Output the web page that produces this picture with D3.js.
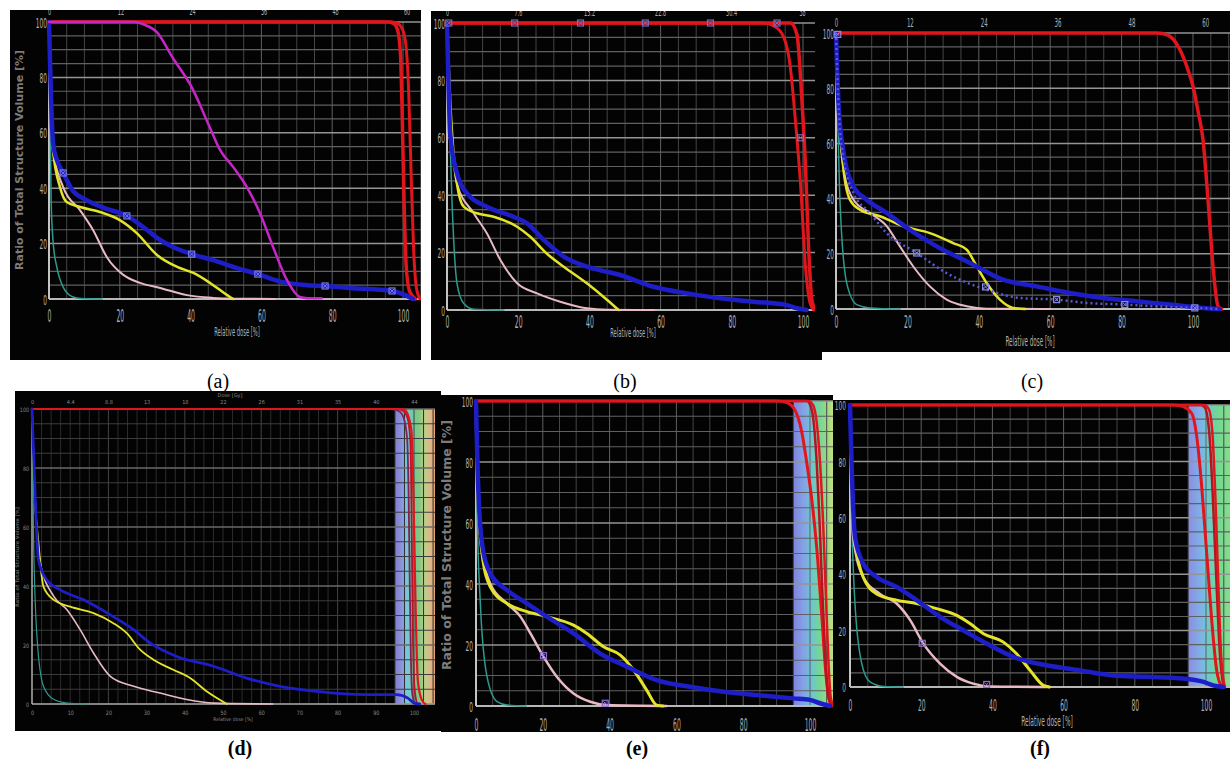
<!DOCTYPE html>
<html>
<head>
<meta charset="utf-8">
<script src="https://cdn.jsdelivr.net/npm/d3@7"></script>
<style>
  body { margin: 0; background: #fff; }
  svg { display: block; }
</style>
</head>
<body>
<svg width="1230" height="759"></svg>
<script>
"use strict";
// tick labels
const volumeTicks = [0, 20, 40, 60, 80, 100];
const doseTicks = [0, 20, 40, 60, 80, 100];
const doseTicksD = [0, 10, 20, 30, 40, 50, 60, 70, 80, 90, 100];
const gyTicksA = [0, 12, 24, 36, 48, 60], rxA = 59.4;
const gyTicksB = [0, 7.6, 15.2, 22.8, 30.4, 38], rxB = 38.1;
const gyTicksC = [0, 12, 24, 36, 48, 60], rxC = 58;
const gyTicksD = [0, 4.4, 8.8, 13.2, 17.6, 22, 26.4, 30.8, 35.2, 39.6, 44], rxD = 44;
const panelLabels = ["(a)", "(b)", "(c)", "(d)", "(e)", "(f)"];

// DVH curves, [relative dose %, volume %]
// (a)
const redA1 = [[0,100],[96,100],[97.5,99.3],[98.5,97],[99.3,88],[99.8,65],[100.3,35],[100.9,12],[101.8,3],[103.5,0]];
const redA2 = [[0,100],[97,100],[98.5,99.5],[99.8,97.5],[100.8,92],[101.6,75],[102.3,45],[103,18],[103.8,4],[104.8,0]];
const magentaA = [[0,100],[24,100],[27,99],[30.4,96.4],[35,87],[40.3,76.5],[45.4,62],[48.3,53.8],[52,47.7],[55.9,40.4],[59.6,31],[63.3,18.8],[67.2,6.9],[70.9,0.7],[73,0.3],[77,0.3]];
const blueA = [[0,100],[0.3,85],[0.7,68],[1.1,57],[2,51],[2.6,49],[4,45.5],[6.8,39],[10.6,35.7],[15.3,33],[22,30],[26.6,26],[31.4,21.3],[35,18.8],[40.3,16.2],[46.4,14],[52,11.6],[59,9],[66,6.1],[72.8,5],[78,4.7],[85,4],[96.9,2.9],[100.6,1.4],[102.8,0]];
const blueMarksA = [[4,45.5],[22,30],[40.3,16.2],[59,9],[78,4.7],[96.9,2.9]];
const yellowA = [[0,100],[0.3,80],[0.6,65],[1.1,54],[3.1,40.4],[5,35],[8.8,33.2],[14.4,31.4],[20,28.5],[24.8,23.8],[30.5,15.9],[36.2,11.6],[40.8,9.4],[45.5,5.8],[51.1,0.7],[52,0]];
const pinkA = [[0,100],[0.4,75],[1.1,54],[4,40.4],[8.8,32],[12.4,25],[16.4,15],[21,8.7],[25.7,5.8],[31.4,4],[39,1.4],[46.3,0.4],[52,0.1],[63.8,0]];
const tealA = [[0,100],[0.2,80],[0.6,35.7],[1.2,20],[2.2,11.6],[4,4.3],[6.8,0.7],[9,0.2],[15,0]];
// (b)
const redB1 = [[0,100],[89,100],[91.8,99],[94.6,95],[96.4,85],[97.8,67],[99.3,44],[100.7,15],[102,2.3],[103,0]];
const redB2 = [[0,100],[96.5,100],[98.3,96],[99.7,73],[100.7,50],[101.6,21],[102.5,3.5],[103.5,0]];
const redMarksB = [[0.5,100],[19,100],[37.5,100],[55.7,100],[74,100],[92.7,100],[99.3,60]];
const blueB = [[0,100],[0.4,80],[0.9,61.5],[2.8,47.6],[5.6,40.6],[11.2,36],[18.7,32.5],[22.5,30.2],[27.2,24.4],[32.8,18.6],[39.3,15.1],[48.7,12.2],[58,8.1],[67.4,5.8],[76.8,4.1],[86,2.9],[95.5,1.7],[98.3,0.6],[101,0]];
const yellowB = [[0,100],[0.9,73],[2.8,44],[4.7,36],[8.4,33.7],[13.1,32.5],[19.7,29],[23.4,25.5],[28,19.7],[32.8,15.1],[39.3,9.3],[45,3.5],[48.2,0]];
const pinkB = [[0,100],[0.9,70],[2.8,44],[7.5,33.7],[11.2,26.7],[15,17.4],[19.7,9.3],[25.3,5.8],[31.8,2.9],[39.3,0.6],[45,0.1],[58,0]];
const tealB = [[0,100],[0.5,73],[1.4,38],[2.8,9.3],[4.7,2.3],[7.5,0.3],[16,0]];
// (c)
const redC = [[0,100],[90,100],[93,99.2],[96.3,94],[98.5,87],[100,80.7],[101.5,71],[102.8,61.4],[104.2,39.6],[105.6,15.5],[107,1],[108,0]];
const blueC = [[0,100],[0.3,88],[0.65,75.8],[2,57.7],[4.9,44.4],[8.6,39.6],[14.2,34.8],[20.7,28.7],[28.2,22.7],[37.5,16.7],[46.8,10.6],[56.2,8.2],[65.5,5.8],[74.8,4],[84.1,2.8],[93.5,1.6],[102.8,0.4],[107.5,0]];
const blueDotC = [[0,100],[0.65,76],[2,55],[4.9,42],[9.5,34.8],[14.2,27.5],[22.6,20.3],[31,13],[42.2,7],[51.5,4],[61.8,3.4],[70.1,2.2],[80.9,1.6],[88.8,1],[100.5,0.4],[107.5,0]];
const blueDotMarksC = [[0.5,99.5],[22.6,20.3],[41.9,8],[61.8,3.4],[80.9,1.6],[100.5,0.4]];
const yellowC = [[0,100],[0.65,75.8],[2,51.7],[3.9,39.6],[6.7,36],[12.3,33.6],[18.8,30],[26.3,27.5],[32.8,23.9],[36.6,21.5],[39.4,15.5],[42.2,9.4],[45.9,3.4],[49.6,0.4],[53,0]];
const pinkC = [[0,100],[0.8,72],[2,51.7],[4.9,39.6],[9.5,34.8],[14.2,30],[17.9,22.7],[21.6,15.5],[26.3,8.2],[31,3.4],[36.6,1],[42.2,0.1],[60,0]];
const tealC = [[0,100],[0.2,88],[1.1,39.6],[3,9.4],[5.8,1.6],[9.5,0.4],[18,0]];
// (d)
const redD1 = [[0,100],[94,100],[96,99.3],[97.3,97],[98.2,90],[98.6,70],[98.9,40],[99.2,15],[99.6,3],[100.2,0]];
const redD2 = [[0,100],[95.5,100],[97,99.5],[98.3,97],[99.1,88],[99.4,60],[99.7,25],[100.1,6],[100.8,0]];
const redD3 = [[0,100],[96.5,100],[97.6,99.7],[99.3,93],[99.9,68],[100.4,34],[101,8],[102,1.5],[103,0]];
const blueD = [[0,100],[0.4,85],[0.9,68],[1.7,48.9],[3.9,42],[7.4,38.7],[13.5,35.3],[20.5,30.2],[26.6,25.2],[30.9,20.7],[37.9,16.1],[47.5,12.8],[56.2,8.8],[64.9,6],[74.5,4.3],[87.5,3.2],[95.4,3.2],[98.4,2],[100.2,0.2],[101.5,0]];
const yellowD = [[0,100],[0.4,79],[1.7,54.5],[3,39.8],[5.7,35.3],[10,33],[16.1,30.8],[21.3,27.4],[24.8,24],[28.3,18.4],[31.8,15],[37,11.6],[41.4,8.8],[45.7,4.3],[51,0]];
const pinkD = [[0,100],[0.8,70],[2.2,47.7],[5.7,36.5],[9.1,32],[12.6,25.2],[16.1,17.3],[20.5,9.4],[26.6,6],[33.5,3.7],[40.5,1.5],[47.5,0.3],[63,0]];
const tealD = [[0,100],[0.4,56.8],[1.3,22.9],[3,6],[5.7,1.5],[9.1,0.3],[14.4,0]];
// (e)
const redE1 = [[0,100],[90,100],[93,99.5],[95.5,97],[97.5,90],[99,80],[100.5,68],[102,52],[103.5,30],[104.8,10],[105.8,2],[107,0]];
const redE2 = [[0,100],[99,100],[100.3,98],[101.2,92],[102,80],[102.8,62],[103.6,40],[104.5,18],[105.3,5],[106.2,0.5],[107,0]];
const redE3 = [[0,100],[99.5,100],[101,98.5],[102,93],[103,80],[104,58],[104.8,35],[105.5,15],[106.2,3],[107,0]];
const blueE = [[0,100],[0.2,90],[0.5,77],[1.8,53.3],[4.3,43.4],[9.3,38],[15.3,33.6],[21.2,29.3],[29.2,23.8],[37.2,17.2],[45.2,12.9],[54.1,8.5],[64.1,6.3],[74.1,4.7],[84,3.6],[95,2.5],[100,2],[103,0.9],[106,0]];
const yellowE = [[0,100],[0.3,77],[1.8,50],[4.3,39],[9.3,33.6],[15.3,30.9],[21.2,29.3],[29.2,26.5],[33.2,23.8],[38.2,19.4],[43.2,16.7],[47.2,11.8],[51.1,5.2],[54.1,0.3],[56,0]];
const pinkE = [[0,100],[0.5,75],[1.3,55.5],[4.3,40],[9.3,33.6],[13.3,29.3],[16.3,23.8],[20.2,16.2],[24.2,9.6],[29.2,4.1],[34.2,1.4],[39.2,0.3],[57,0]];
const tealE = [[0,100],[0.3,66],[1.3,33.6],[3.3,9.6],[6.3,1.4],[9.3,0.3],[15,0]];
const pinkMarksE = [[20.2,16.5],[38.7,0.9]];
// (f)
const redF1 = [[0,100],[91,100],[93.6,99.4],[96,97],[97.4,88.8],[98.8,71],[100.2,47.3],[101.6,23.7],[103,5.9],[104.4,0]];
const redF2 = [[0,100],[98.5,100],[99.7,99],[101,88.8],[102,65],[103,35.5],[103.9,11.8],[104.9,0]];
const redF3 = [[0,100],[99.5,100],[100.8,98.5],[101.8,90],[102.7,65],[103.5,35],[104.3,10],[105.3,0]];
const blueF = [[0,100],[0.2,90],[0.5,77],[1.4,53.3],[3.7,43.8],[7.5,39],[13.1,35.5],[18.7,30.8],[25.3,24.9],[31.8,20.1],[38.4,15.4],[45.9,10.7],[55.2,7.7],[64.6,5.9],[74,4.1],[83.3,3.6],[93.6,3],[99.3,1.8],[102,0.6],[104.9,0]];
const yellowF = [[0,100],[0.2,88.8],[1.4,53.3],[3.7,39],[7.5,33],[13.1,30.8],[18.7,29.6],[24.3,27.8],[30,25.4],[33.7,22.5],[37.5,18.9],[43,16],[46.8,11.8],[50.6,5.9],[54.3,0.6],[56,0]];
const pinkF = [[0,100],[0.9,53.3],[3.7,39],[8.4,33],[13.1,29.6],[16.9,23.7],[20.6,15.4],[25.3,8.3],[30,3.6],[34.6,1.2],[39.3,0.2],[56,0]];
const tealF = [[0,100],[0.2,77],[1.4,29.6],[3.3,8.3],[5.6,1.8],[9.4,0.2],[15,0]];
const pinkMarksF = [[20.3,15.5],[38.4,0.9]];

// dose colour-wash bands (offset, colour) starting at 95 %
const bandStart = 95;
const bandD = [[0,"#7f80d0"],[0.15,"#8c90dc"],[0.3,"#78c8dc"],[0.5,"#72c894"],[0.62,"#8cc880"],[0.75,"#bcd08c"],[0.87,"#dcb888"],[1,"#e6a878"]];
const bandE = [[0,"#7d84dc"],[0.25,"#86a0e6"],[0.45,"#6cc4d4"],[0.65,"#72d696"],[0.85,"#9cd886"],[1,"#c4e080"]];
const bandF = [[0,"#8a8ee0"],[0.3,"#7fb0e8"],[0.45,"#6cc8d0"],[0.7,"#70d892"],[1,"#88dc8a"]];

const col = {red: "#e0161c", red2: "#b41424", maroon: "#7c2456", blue: "#1e1ec8",
  yellow: "#e4e42c", pink: "#e8bac4", teal: "#2f9a8e", magenta: "#c626c8"};

let panels = [
  {id: "a", box: [10, 10, 421, 360], x0: 49, x100: 403, y0: 299, y100: 22, right: 421,
    xTicks: doseTicks, xTickY: 322, yTickX: 47, tf: 17, tsx: 0.36, ytf: 14, ytsx: 0.42,
    xTitle: [237, 336, 13, 0.4], yTitle: [19, 160, 11], top: [gyTicksA, rxA, 15, 11, 0.45], vStep: 5,
    curves: [[redA2, col.red, 3], [redA1, col.red, 3.5], [tealA, col.teal, 1.5], [pinkA, col.pink, 2], [yellowA, col.yellow, 2.5], [blueA, col.blue, 4.5], [magentaA, col.magenta, 2.5]],
    marks: [[blueMarksA, "#7a7ae8"]]},
  {id: "b", box: [431, 11, 822, 360], x0: 447, x100: 803, y0: 310, y100: 23, right: 815,
    xTicks: doseTicks, xTickY: 328, yTickX: 445, tf: 17, tsx: 0.36, ytf: 14, ytsx: 0.42,
    xTitle: [633, 337, 13, 0.4], top: [gyTicksB, rxB, 16, 11, 0.45], vStep: 5,
    curves: [[redB1, col.red, 3], [redB2, col.red, 3.5], [tealB, col.teal, 1.5], [pinkB, col.pink, 2], [yellowB, col.yellow, 2.5], [blueB, col.blue, 4.5]],
    marks: [[redMarksB, "#7a6cc0"]]},
  {id: "c", box: [822, 11, 1230, 352], x0: 836, x100: 1193, y0: 309, y100: 33, right: 1230,
    xTicks: doseTicks, xTickY: 328, yTickX: 834, tf: 17, tsx: 0.36, ytf: 14, ytsx: 0.42,
    xTitle: [1030, 346, 14, 0.4], top: [gyTicksC, rxC, 27, 13, 0.42], vStep: 5,
    curves: [[redC, col.red, 3.5], [tealC, col.teal, 1.5], [pinkC, col.pink, 2], [yellowC, col.yellow, 2.5], [blueC, col.blue, 4.5]],
    dotted: blueDotC, marks: [[blueDotMarksC, "#8a8ae8"]]},
  {id: "d", box: [15, 391, 441, 731], x0: 32, x100: 414, y0: 704, y100: 409, right: 435,
    xTicks: doseTicksD, xTickY: 715, yTickX: 29, tf: 6, tsx: 0.8, ytf: 6, ytsx: 0.8,
    xTitle: [233, 721, 5, 0.9], yTitle: [17, 557, 5], top: [gyTicksD, rxD, 404, 5.5, 0.9], topTitle: [230, 397, 5], vStep: 2.5,
    band: bandD, dim: true,
    curves: [[redD1, col.maroon, 1.8], [redD2, col.red2, 1.8], [redD3, col.red, 2.2], [tealD, col.teal, 1.2], [pinkD, col.pink, 1.6], [yellowD, col.yellow, 1.8], [blueD, col.blue, 2.8]],
    marks: []},
  {id: "e", box: [441, 395, 833, 732], x0: 476, x100: 810, y0: 706, y100: 401, right: 833,
    xTicks: doseTicks, xTickY: 731, yTickX: 473, tf: 17, tsx: 0.36, ytf: 14, ytsx: 0.42,
    yTitle: [447, 545, 12.5], vStep: 5, band: bandE,
    curves: [[redE1, col.red, 3], [redE2, col.red2, 2.5], [redE3, col.red, 2.5], [tealE, col.teal, 1.5], [pinkE, col.pink, 2.5], [yellowE, col.yellow, 3], [blueE, col.blue, 4.5]],
    marks: [[pinkMarksE, "#8a6cc8"]]},
  {id: "f", box: [833, 400, 1230, 732], x0: 850, x100: 1206, y0: 687, y100: 405, right: 1230,
    xTicks: doseTicks, xTickY: 711, yTickX: 846, tf: 15, tsx: 0.4, ytf: 13, ytsx: 0.45,
    xTitle: [1047, 726, 14, 0.42], vStep: 5, band: bandF,
    curves: [[redF1, col.red, 3], [redF2, col.red2, 2.5], [redF3, col.red, 2.5], [tealF, col.teal, 1.5], [pinkF, col.pink, 2.5], [yellowF, col.yellow, 3], [blueF, col.blue, 4.5]],
    marks: [[pinkMarksF, "#8a6cc8"]]}
];

const svg = d3.select("svg");
const defs = svg.append("defs");
const font = "DejaVu Sans, sans-serif";

function styleAxis(ax, size, sx, fill) {
  ax.select(".domain").remove();
  ax.attr("font-family", font).attr("font-size", size);
  ax.selectAll("text").attr("fill", fill).attr("dy", null).attr("transform", `scale(${sx},1)`);
}

panels.forEach(p => {
  const [bx0, by0, bx1, by1] = p.box;
  defs.append("clipPath").attr("id", "box-" + p.id)
    .append("rect").attr("x", bx0).attr("y", by0).attr("width", bx1 - bx0).attr("height", by1 - by0);
  defs.append("clipPath").attr("id", "plot-" + p.id)
    .append("rect").attr("x", p.x0 - 4).attr("y", p.y100 - 5).attr("width", p.right - p.x0 + 4).attr("height", p.y0 - p.y100 + 9);

  const g = svg.append("g").attr("clip-path", `url(#box-${p.id})`);
  g.append("rect").attr("x", bx0).attr("y", by0).attr("width", bx1 - bx0).attr("height", by1 - by0).attr("fill", "#030303");

  const x = d3.scaleLinear().domain([0, 100]).range([p.x0, p.x100]);
  const y = d3.scaleLinear().domain([0, 100]).range([p.y0, p.y100]);
  const xMax = x.invert(p.right);

  if (p.band) {
    const gid = "band-" + p.id;
    const lg = defs.append("linearGradient").attr("id", gid).attr("x1", "0").attr("x2", "1").attr("y1", "0").attr("y2", "0");
    p.band.forEach(s => lg.append("stop").attr("offset", s[0]).attr("stop-color", s[1]));
    g.append("rect").attr("x", x(bandStart)).attr("y", y(100)).attr("width", p.right - x(bandStart))
      .attr("height", y(0) - y(100)).attr("fill", `url(#${gid})`);
  }

  // grid
  const grid = g.append("g");
  grid.selectAll("line.v").data(d3.range(0, xMax + 0.01, p.vStep)).join("line")
    .attr("x1", d => x(d)).attr("x2", d => x(d)).attr("y1", y(100)).attr("y2", y(0))
    .attr("stroke", d => d % 20 === 0 ? (p.dim ? "#444" : "#606060") : (p.dim ? "#2c2c2c" : "#454545"))
    .attr("stroke-width", 1);
  grid.selectAll("line.h").data(d3.range(0, 100.01, 5)).join("line")
    .attr("x1", x(0)).attr("x2", p.right).attr("y1", d => y(d)).attr("y2", d => y(d))
    .attr("stroke", d => d % 20 === 0 ? (p.dim ? "#6a6a6a" : "#959595") : (p.dim ? "#3c3c3c" : "#606060"))
    .attr("stroke-width", d => d % 20 === 0 ? 1.5 : 1.2);
  g.append("line").attr("x1", x(0)).attr("x2", p.right).attr("y1", y(0)).attr("y2", y(0))
    .attr("stroke", "#b8b8b8").attr("stroke-width", p.dim ? 1.2 : 2);
  g.append("line").attr("x1", x(0)).attr("x2", x(0)).attr("y1", y(0)).attr("y2", y(100))
    .attr("stroke", "#c4c4c4").attr("stroke-width", p.dim ? 1.2 : 2);

  // curves
  const line = d3.line().x(d => x(d[0])).y(d => y(d[1])).curve(d3.curveMonotoneX);
  const cg = g.append("g").attr("clip-path", `url(#plot-${p.id})`).attr("fill", "none");
  p.curves.forEach(c => {
    cg.append("path").datum(c[0]).attr("d", line).attr("stroke", c[1]).attr("stroke-width", c[2])
      .attr("stroke-linejoin", "round").attr("stroke-linecap", "round");
  });
  if (p.dotted) {
    cg.append("path").datum(p.dotted).attr("d", line).attr("stroke", "#5a5ad0").attr("stroke-width", 2.5)
      .attr("stroke-dasharray", "2,3");
  }
  p.marks.forEach(m => {
    const mg = cg.selectAll(null).data(m[0]).join("g").attr("transform", d => `translate(${x(d[0])},${y(d[1])})`);
    mg.append("rect").attr("x", -3).attr("y", -3).attr("width", 6).attr("height", 6)
      .attr("fill", "none").attr("stroke", m[1]).attr("stroke-width", 1.2);
    mg.append("path").attr("d", "M-2,-2L2,2M-2,2L2,-2").attr("stroke", m[1]).attr("stroke-width", 1);
  });

  // axes
  const tickFill = p.dim ? "#8a8a8a" : "#b0b0b0";
  const xa = g.append("g").attr("transform", `translate(0,${p.xTickY})`)
    .call(d3.axisBottom(x).tickValues(p.xTicks).tickSize(0).tickPadding(0));
  styleAxis(xa, p.tf, p.tsx, tickFill);
  xa.selectAll("text").attr("y", 0);

  const ya = g.append("g").attr("transform", `translate(${p.yTickX},0)`)
    .call(d3.axisLeft(y).tickValues(volumeTicks).tickSize(0).tickPadding(0));
  styleAxis(ya, p.ytf, p.ytsx, tickFill);
  ya.selectAll("text").attr("x", 0).attr("dy", "0.36em");

  if (p.top) {
    const [ticks, rx, ty, ts, tsx] = p.top;
    const gy = d3.scaleLinear().domain([0, rx]).range([x(0), x(100)]);
    const fmt = v => (v > 0 && v < 10 ? d3.format(".1f")(v) : d3.format(".0f")(v));
    const ta = g.append("g").attr("transform", `translate(0,${ty})`)
      .call(d3.axisTop(gy).tickValues(ticks).tickFormat(p.id === "b" ? d3.format("") : fmt).tickSize(0).tickPadding(0));
    styleAxis(ta, ts, tsx, tickFill);
    ta.selectAll("text").attr("y", 0);
  }
  if (p.topTitle) {
    g.append("text").attr("x", p.topTitle[0]).attr("y", p.topTitle[1]).attr("text-anchor", "middle")
      .attr("font-family", font).attr("font-size", p.topTitle[2]).attr("fill", "#8a8a8a").text("Dose [Gy]");
  }
  if (p.xTitle) {
    const [tx, ty, ts, tsx] = p.xTitle;
    g.append("text").attr("transform", `translate(${tx},${ty}) scale(${tsx},1)`).attr("text-anchor", "middle")
      .attr("font-family", font).attr("font-size", ts).attr("fill", tickFill).text("Relative dose [%]");
  }
  if (p.yTitle) {
    const [tx, ty, ts] = p.yTitle;
    g.append("text").attr("transform", `translate(${tx},${ty}) rotate(-90)`).attr("text-anchor", "middle")
      .attr("dy", "0.35em").attr("font-family", font).attr("font-size", ts).attr("font-weight", "bold")
      .attr("fill", p.dim ? "#5a5a5a" : "#7c7c7c").text("Ratio of Total Structure Volume [%]");
  }
});

// panel captions
const capX = [218, 625, 1032, 240, 637, 1040];
svg.selectAll("text.cap").data(panelLabels).join("text")
  .attr("x", (d, i) => capX[i]).attr("y", (d, i) => i < 3 ? 388 : 755)
  .attr("text-anchor", "middle").attr("font-family", "Liberation Serif, serif").attr("font-size", 20)
  .attr("font-weight", (d, i) => i < 3 ? "normal" : "bold").attr("fill", "#000").text(d => d);
</script>
</body>
</html>
